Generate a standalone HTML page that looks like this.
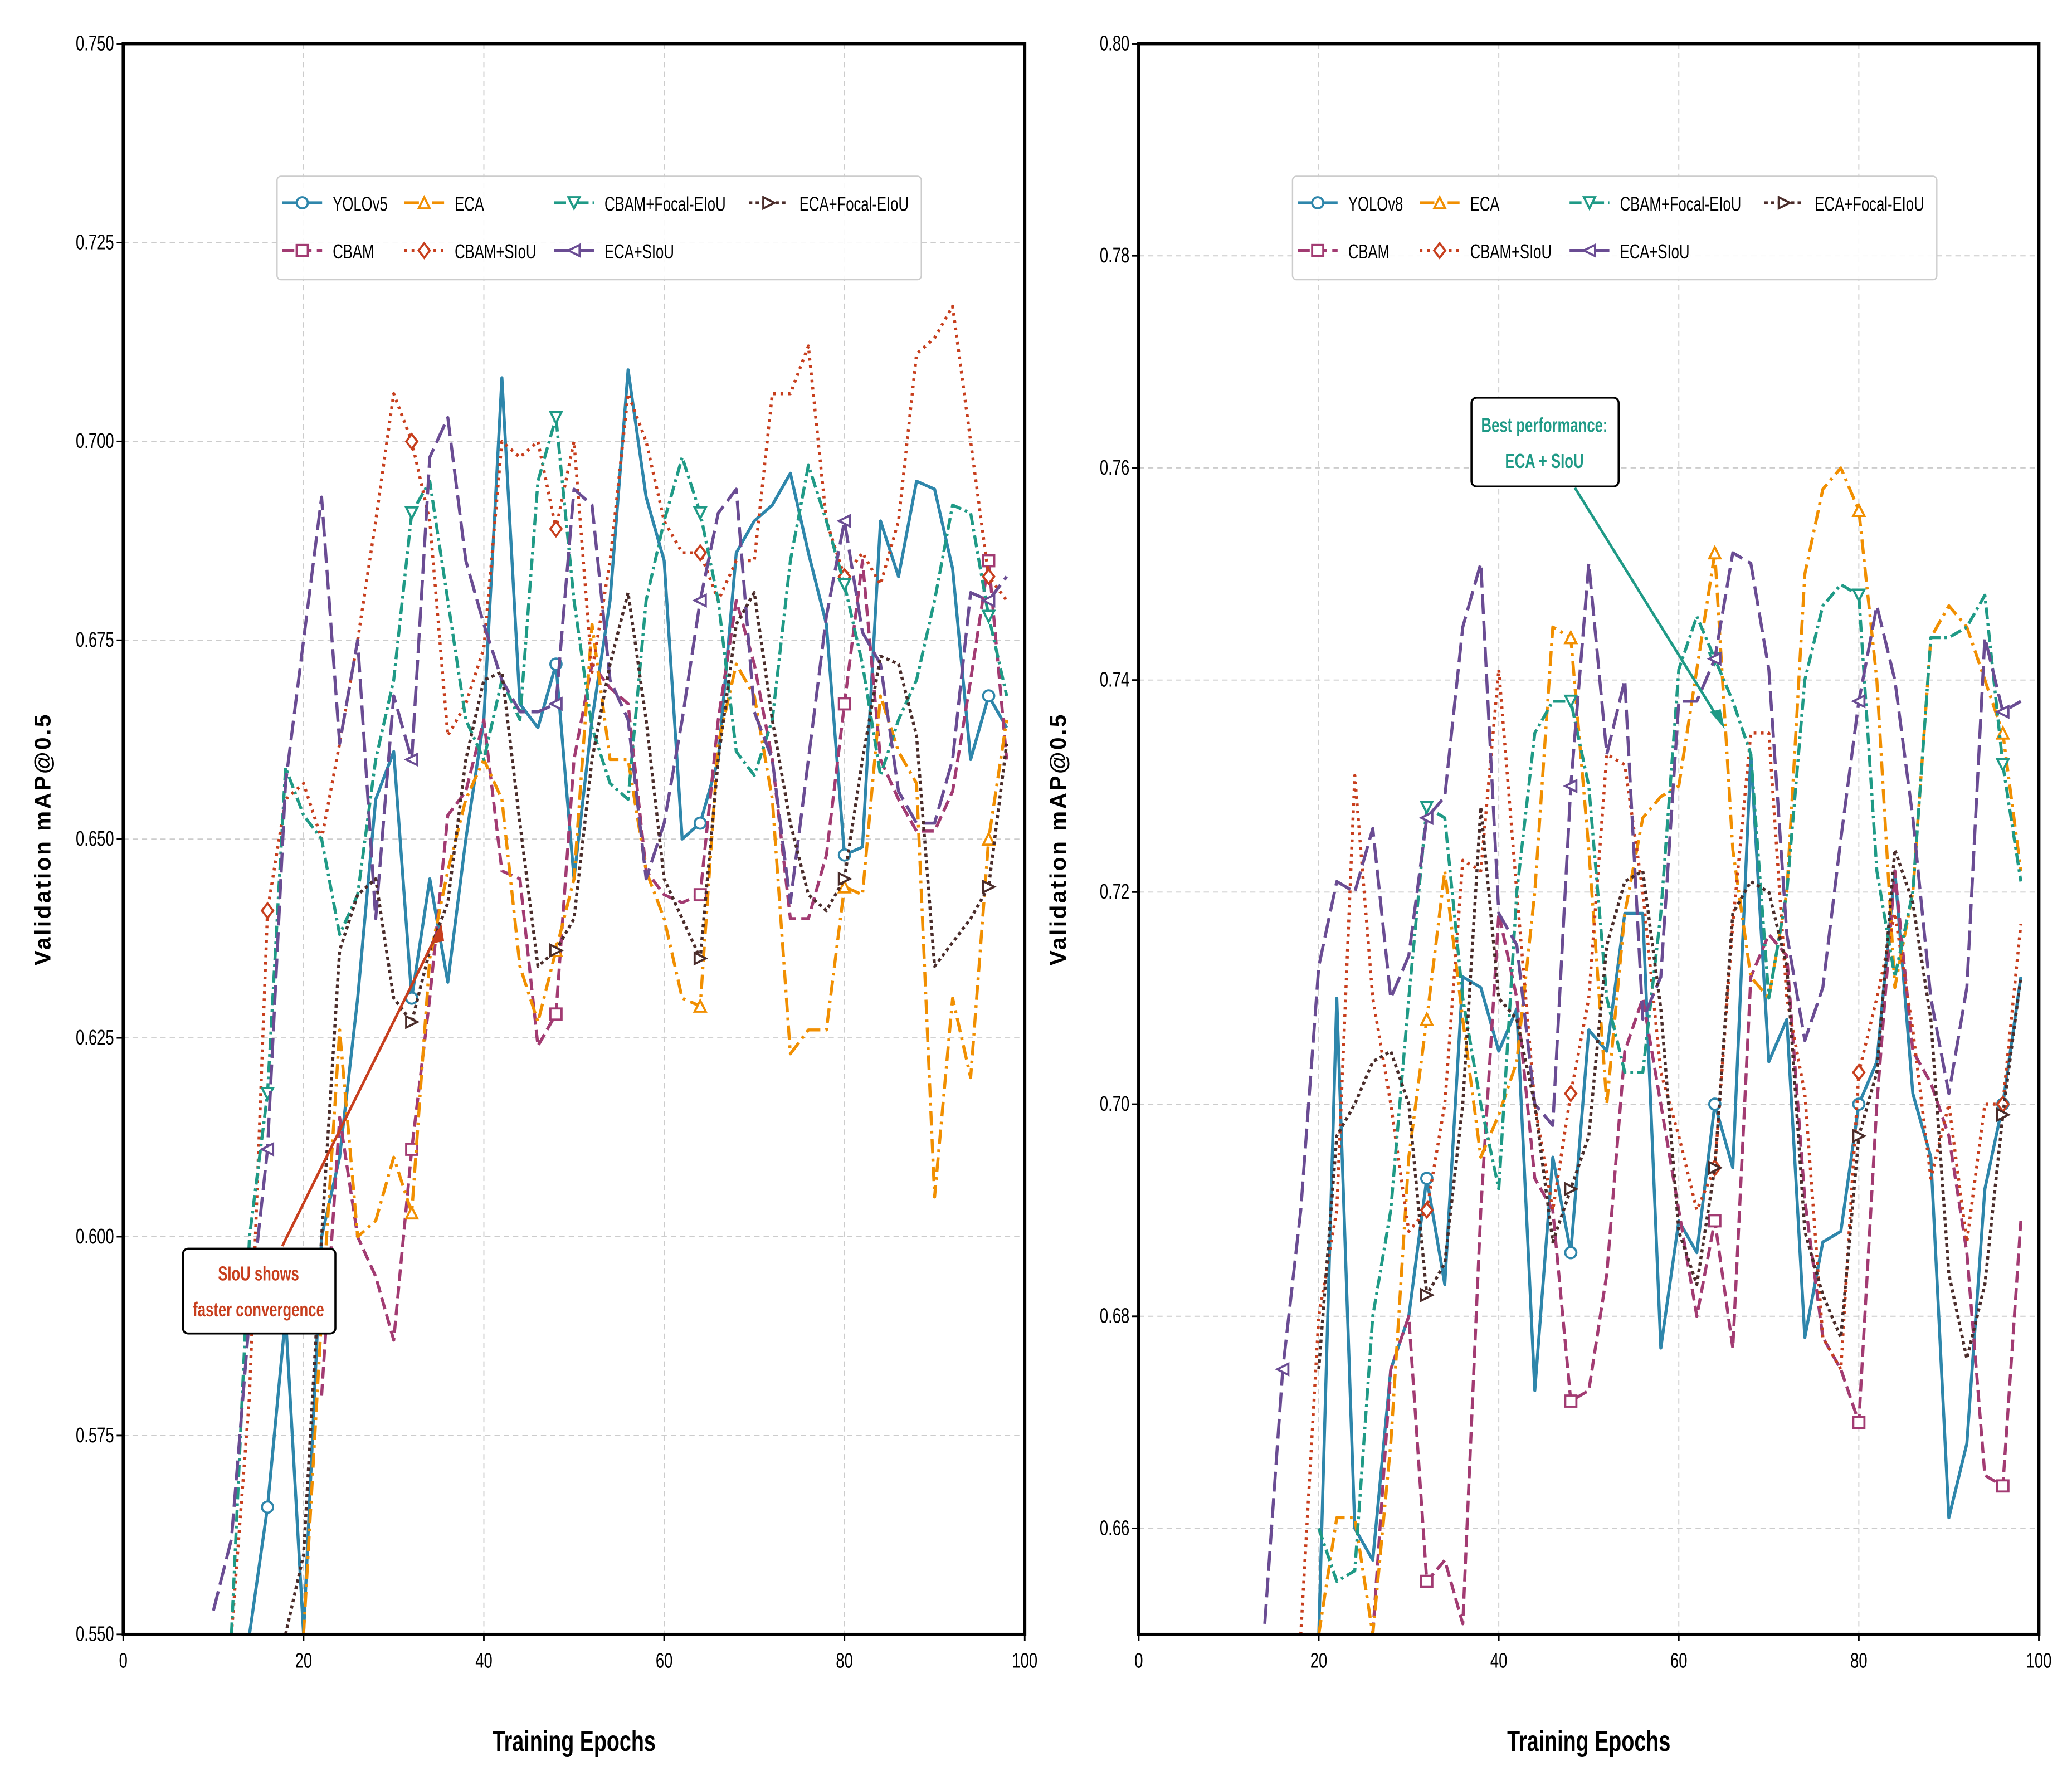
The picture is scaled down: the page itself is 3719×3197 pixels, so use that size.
<!DOCTYPE html>
<html><head><meta charset="utf-8">
<style>
html,body{margin:0;padding:0;background:#fff;}
svg{display:block;font-family:"Liberation Sans",sans-serif;}
</style></head>
<body>
<svg id="chart" width="3719" height="3197" viewBox="0 0 1563 1343.6" xmlns="http://www.w3.org/2000/svg">
<rect width="1563" height="1343.6" fill="#fff"/>
<g id="left"></g>
<g id="right"></g>
</svg>
<script>
const leftYTicks = [0.550,0.575,0.600,0.625,0.650,0.675,0.700,0.725,0.750];
const rightYTicks = [0.66,0.68,0.70,0.72,0.74,0.76,0.78,0.80];
const xTicks = [0,20,40,60,80,100];
const seriesNamesLeft = ["YOLOv5","CBAM","ECA","CBAM+SIoU","CBAM+Focal-EIoU","ECA+SIoU","ECA+Focal-EIoU"];
const L_yolo_start = 14;
const L_yolo = [0.55,0.566,0.59,0.55,0.60,0.61,0.63,0.655,0.661,0.630,0.645,0.632,0.65,0.665,0.708,0.667,0.664,0.672,0.645,0.665,0.68,0.709,0.693,0.685,0.650,0.652,0.66,0.686,0.690,0.692,0.696,0.686,0.677,0.648,0.649,0.69,0.683,0.695,0.694,0.684,0.66,0.668,0.664];
const L_cbam_start = 22;
const L_cbam = [0.58,0.615,0.60,0.595,0.587,0.611,0.63,0.653,0.656,0.665,0.646,0.645,0.624,0.628,0.66,0.672,0.669,0.667,0.646,0.643,0.642,0.643,0.665,0.680,0.672,0.660,0.640,0.640,0.648,0.667,0.685,0.660,0.655,0.651,0.651,0.656,0.670,0.685,0.66];
const L_eca_start = 20;
const L_eca = [0.55,0.59,0.626,0.600,0.602,0.610,0.603,0.635,0.646,0.655,0.660,0.655,0.634,0.627,0.636,0.645,0.677,0.660,0.660,0.646,0.640,0.630,0.629,0.662,0.672,0.668,0.655,0.623,0.626,0.626,0.644,0.643,0.668,0.661,0.657,0.605,0.630,0.620,0.650,0.665];
const L_cs_start = 12;
const L_cs = [0.55,0.58,0.641,0.655,0.657,0.650,0.662,0.675,0.690,0.706,0.700,0.690,0.663,0.667,0.674,0.700,0.698,0.700,0.689,0.700,0.671,0.685,0.706,0.700,0.690,0.686,0.686,0.680,0.685,0.685,0.706,0.706,0.712,0.690,0.683,0.686,0.682,0.690,0.711,0.713,0.717,0.700,0.683,0.680];
const L_cf_start = 12;
const L_cf = [0.55,0.60,0.618,0.659,0.653,0.650,0.638,0.643,0.660,0.670,0.691,0.695,0.680,0.665,0.660,0.670,0.665,0.695,0.703,0.680,0.664,0.657,0.655,0.680,0.690,0.698,0.691,0.680,0.661,0.658,0.665,0.685,0.697,0.690,0.682,0.672,0.658,0.665,0.670,0.680,0.692,0.691,0.678,0.668];
const L_es_start = 10;
const L_es = [0.553,0.562,0.590,0.611,0.657,0.675,0.693,0.662,0.675,0.640,0.668,0.660,0.698,0.703,0.685,0.677,0.670,0.666,0.666,0.667,0.694,0.692,0.670,0.665,0.645,0.652,0.665,0.680,0.691,0.694,0.666,0.660,0.642,0.660,0.678,0.690,0.676,0.672,0.656,0.652,0.652,0.660,0.681,0.680,0.683];
const L_ef_start = 18;
const L_ef = [0.55,0.56,0.600,0.636,0.643,0.645,0.630,0.627,0.636,0.642,0.660,0.670,0.671,0.652,0.634,0.636,0.640,0.660,0.672,0.681,0.665,0.645,0.640,0.635,0.660,0.677,0.681,0.665,0.652,0.643,0.641,0.645,0.660,0.673,0.672,0.663,0.634,0.637,0.640,0.644,0.662];
const R_yolo_start = 20;
const R_yolo = [0.65,0.71,0.66,0.657,0.675,0.68,0.693,0.683,0.712,0.711,0.705,0.709,0.673,0.695,0.686,0.707,0.705,0.718,0.718,0.677,0.689,0.686,0.700,0.694,0.733,0.704,0.708,0.678,0.687,0.688,0.700,0.704,0.722,0.701,0.695,0.661,0.668,0.692,0.700,0.712];
const R_cbam_start = 26;
const R_cbam = [0.65,0.675,0.68,0.655,0.657,0.651,0.690,0.718,0.710,0.693,0.690,0.672,0.673,0.684,0.705,0.710,0.700,0.690,0.680,0.689,0.677,0.712,0.716,0.714,0.691,0.678,0.675,0.670,0.700,0.722,0.705,0.702,0.697,0.686,0.665,0.664,0.689];
const R_eca_start = 20;
const R_eca = [0.65,0.661,0.661,0.65,0.668,0.695,0.708,0.722,0.708,0.695,0.699,0.704,0.720,0.745,0.744,0.724,0.700,0.718,0.727,0.729,0.730,0.741,0.752,0.724,0.712,0.710,0.720,0.750,0.758,0.760,0.756,0.740,0.711,0.720,0.744,0.747,0.745,0.740,0.735,0.722];
const R_cs_start = 18;
const R_cs = [0.65,0.680,0.690,0.731,0.710,0.700,0.688,0.690,0.700,0.723,0.722,0.741,0.720,0.700,0.690,0.701,0.710,0.733,0.732,0.720,0.703,0.697,0.690,0.694,0.717,0.735,0.735,0.710,0.701,0.678,0.675,0.703,0.710,0.718,0.707,0.693,0.700,0.687,0.700,0.700,0.717];
const R_cf_start = 20;
const R_cf = [0.66,0.655,0.656,0.680,0.690,0.710,0.728,0.727,0.710,0.700,0.692,0.720,0.735,0.738,0.738,0.730,0.710,0.703,0.703,0.718,0.741,0.746,0.742,0.738,0.733,0.710,0.720,0.740,0.747,0.749,0.748,0.722,0.712,0.720,0.744,0.744,0.745,0.748,0.732,0.721];
const R_es_start = 14;
const R_es = [0.651,0.675,0.690,0.713,0.721,0.720,0.726,0.710,0.714,0.727,0.729,0.745,0.751,0.718,0.715,0.700,0.698,0.730,0.751,0.733,0.740,0.708,0.712,0.738,0.738,0.742,0.752,0.751,0.741,0.716,0.706,0.711,0.725,0.738,0.747,0.740,0.727,0.710,0.701,0.711,0.744,0.737,0.738];
const R_ef_start = 20;
const R_ef = [0.675,0.697,0.700,0.704,0.705,0.700,0.682,0.685,0.700,0.728,0.710,0.708,0.700,0.687,0.692,0.697,0.715,0.721,0.722,0.709,0.688,0.683,0.694,0.718,0.721,0.720,0.713,0.688,0.682,0.678,0.697,0.703,0.724,0.719,0.708,0.684,0.676,0.683,0.699,0.712];

const NS="http://www.w3.org/2000/svg";
function mk(tag,attrs,parent,text){const e=document.createElementNS(NS,tag);for(const k in attrs)e.setAttribute(k,attrs[k]);if(text!==undefined)e.textContent=text;parent.appendChild(e);return e;}

const styles = [
 {c:"#2E86AB",dash:"",m:"circle"},
 {c:"#A23B72",dash:"9,4",m:"square"},
 {c:"#F18F01",dash:"11,4,2,4",m:"tri-up"},
 {c:"#C73E1D",dash:"2,3.5",m:"diamond"},
 {c:"#1F9A86",dash:"9,3,2,3",m:"tri-down"},
 {c:"#6A4C93",dash:"15,5",m:"tri-left"},
 {c:"#4A2C2A",dash:"2.5,2.5",m:"tri-right"}
];
function marker(g,type,x,y,c){
  const r=4.2;let e;
  if(type==="circle") e=mk("circle",{cx:x,cy:y,r:r},g);
  else if(type==="square") e=mk("rect",{x:x-r,y:y-r,width:2*r,height:2*r},g);
  else {
    let p;
    if(type==="diamond") p=[[x,y-r*1.3],[x+r,y],[x,y+r*1.3],[x-r,y]];
    if(type==="tri-up") p=[[x,y-r],[x+r,y+r],[x-r,y+r]];
    if(type==="tri-down") p=[[x,y+r],[x+r,y-r],[x-r,y-r]];
    if(type==="tri-left") p=[[x-r,y],[x+r,y-r],[x+r,y+r]];
    if(type==="tri-right") p=[[x+r,y],[x-r,y-r],[x-r,y+r]];
    e=mk("polygon",{points:p.map(a=>a.join(",")).join(" ")},g);
  }
  e.setAttribute("fill","#fff");e.setAttribute("stroke",c);e.setAttribute("stroke-width","1.6");
  
  
}
function sq(x){return "translate("+x+",0) scale(0.72,1) translate("+(-x)+",0)";}

function panel(gid,x0,x1,y0,y1,ymin,ymax,yTicks,yFmt,series,names,legX,annot){
  const g=document.getElementById(gid);
  const sx=v=>x0+(v/100)*(x1-x0);
  const sy=v=>y1-(v-ymin)/(ymax-ymin)*(y1-y0);
  const clipId=gid+"-clip";
  const defs=mk("defs",{},g);const cp=mk("clipPath",{id:clipId},defs);mk("rect",{x:x0,y:y0,width:x1-x0,height:y1-y0},cp);
  const grid=mk("g",{},g);
  
  
  yTicks.forEach(t=>{mk("line",{x1:x0,x2:x1,y1:sy(t),y2:sy(t),stroke:"#ccc","stroke-width":0.8,"stroke-dasharray":"4,3"},grid);});
  xTicks.forEach(t=>{mk("line",{x1:sx(t),x2:sx(t),y1:y0,y2:y1,stroke:"#ccc","stroke-width":0.8,"stroke-dasharray":"4,3"},grid);});
  const sg=mk("g",{"clip-path":"url(#"+clipId+")"},g);
  series.forEach((s,i)=>{
    const st=styles[i];
    const pts=s.vals.map((v,k)=>[sx(s.start+2*k),sy(v)]);
    const pl=mk("polyline",{points:pts.map(p=>p.join(",")).join(" "),fill:"none",stroke:st.c,"stroke-width":2.3,"stroke-dasharray":st.dash,"stroke-linejoin":"round"},sg);
    
    
    s.vals.forEach((v,k)=>{const ep=s.start+2*k;if(ep%16===0)marker(sg,st.m,sx(ep),sy(v),st.c);});
  });
  const fr=mk("rect",{x:x0,y:y0,width:x1-x0,height:y1-y0,fill:"none",stroke:"#000","stroke-width":2.4},g);
  
  
  yTicks.forEach(t=>{
    mk("line",{x1:x0-5,x2:x0,y1:sy(t),y2:sy(t),stroke:"#000","stroke-width":1.2},g);
    const tx=mk("text",{x:x0-7,y:sy(t)+5,"text-anchor":"end","font-size":16,transform:sq(x0-7)},g,yFmt(t));
    
    
  });
  xTicks.forEach(t=>{
    mk("line",{x1:sx(t),x2:sx(t),y1:y1,y2:y1+5,stroke:"#000","stroke-width":1.2},g);
    const tx=mk("text",{x:sx(t),y:y1+25,"text-anchor":"middle","font-size":16,transform:sq(sx(t))},g,String(t));
    
    
  });
  const cx=(x0+x1)/2;
  const xl=mk("text",{x:cx,y:1321,"text-anchor":"middle","font-size":22,"font-weight":"bold",transform:sq(cx)},g,"Training Epochs");
  
  
  const lx=x0-55, ly=(y0+y1)/2;
  const yl=mk("text",{x:lx,y:ly,"text-anchor":"middle","font-size":17,"font-weight":"bold","letter-spacing":"1.5",transform:"rotate(-90 "+lx+" "+ly+")"},g,"Validation mAP@0.5");
  
  
  const lg=mk("g",{},g);
  
  
  mk("rect",{x:legX,y:133,width:486,height:78,rx:3,fill:"#fff","fill-opacity":0.9,stroke:"#ccc","stroke-width":1},lg);
  const cols=[legX+4,legX+96,legX+209,legX+356];
  names.forEach((n,i)=>{
    const col=Math.floor(i/2), row=i%2;
    const x=cols[col], y=153+row*36;
    const st=styles[i];
    const e=mk("g",{},lg);
    
    
    mk("line",{x1:x,x2:x+30,y1:y,y2:y,stroke:st.c,"stroke-width":2.3,"stroke-dasharray":st.dash},e);
    marker(e,st.m,x+15,y,st.c);
    mk("text",{x:x+38,y:y+6,"font-size":15,transform:sq(x+38)},e,n);
  });
  annot(g,sx,sy);
}

function S(start,vals){return {start:start,vals:vals};}
panel("left",93,773,33,1233,0.55,0.75,leftYTicks,t=>t.toFixed(3),
 [S(L_yolo_start,L_yolo),S(L_cbam_start,L_cbam),S(L_eca_start,L_eca),S(L_cs_start,L_cs),S(L_cf_start,L_cf),S(L_es_start,L_es),S(L_ef_start,L_ef)],
 seriesNamesLeft,209,
 (g)=>{
  const a=mk("g",{},g);
  
  
  mk("line",{x1:213,y1:940,x2:331,y2:702,stroke:"#C73E1D","stroke-width":2},a);
  mk("polygon",{points:"333,697 325,712 335,710",fill:"#C73E1D"},a);
  mk("rect",{x:138,y:942,width:115,height:64,rx:4,fill:"#fff",stroke:"#000","stroke-width":1.5},a);
  mk("text",{x:195,y:966,"text-anchor":"middle","font-size":15,"font-weight":"bold",fill:"#C73E1D",transform:sq(195)},a,"SIoU shows");
  mk("text",{x:195,y:993,"text-anchor":"middle","font-size":15,"font-weight":"bold",fill:"#C73E1D",transform:sq(195)},a,"faster convergence");
 });
panel("right",859,1538,33,1233,0.65,0.80,rightYTicks,t=>t.toFixed(2),
 [S(R_yolo_start,R_yolo),S(R_cbam_start,R_cbam),S(R_eca_start,R_eca),S(R_cs_start,R_cs),S(R_cf_start,R_cf),S(R_es_start,R_es),S(R_ef_start,R_ef)],
 ["YOLOv8","CBAM","ECA","CBAM+SIoU","CBAM+Focal-EIoU","ECA+SIoU","ECA+Focal-EIoU"],975,
 (g)=>{
  const a=mk("g",{},g);
  
  
  mk("line",{x1:1188,y1:368,x2:1298,y2:545,stroke:"#1F9A86","stroke-width":2},a);
  mk("polygon",{points:"1301,550 1290,537 1298,535",fill:"#1F9A86"},a);
  mk("rect",{x:1110,y:300,width:111,height:67,rx:4,fill:"#fff",stroke:"#000","stroke-width":1.5},a);
  mk("text",{x:1165,y:326,"text-anchor":"middle","font-size":15,"font-weight":"bold",fill:"#1F9A86",transform:sq(1165)},a,"Best performance:");
  mk("text",{x:1165,y:353,"text-anchor":"middle","font-size":15,"font-weight":"bold",fill:"#1F9A86",transform:sq(1165)},a,"ECA + SIoU");
 });
</script>
</body></html>
